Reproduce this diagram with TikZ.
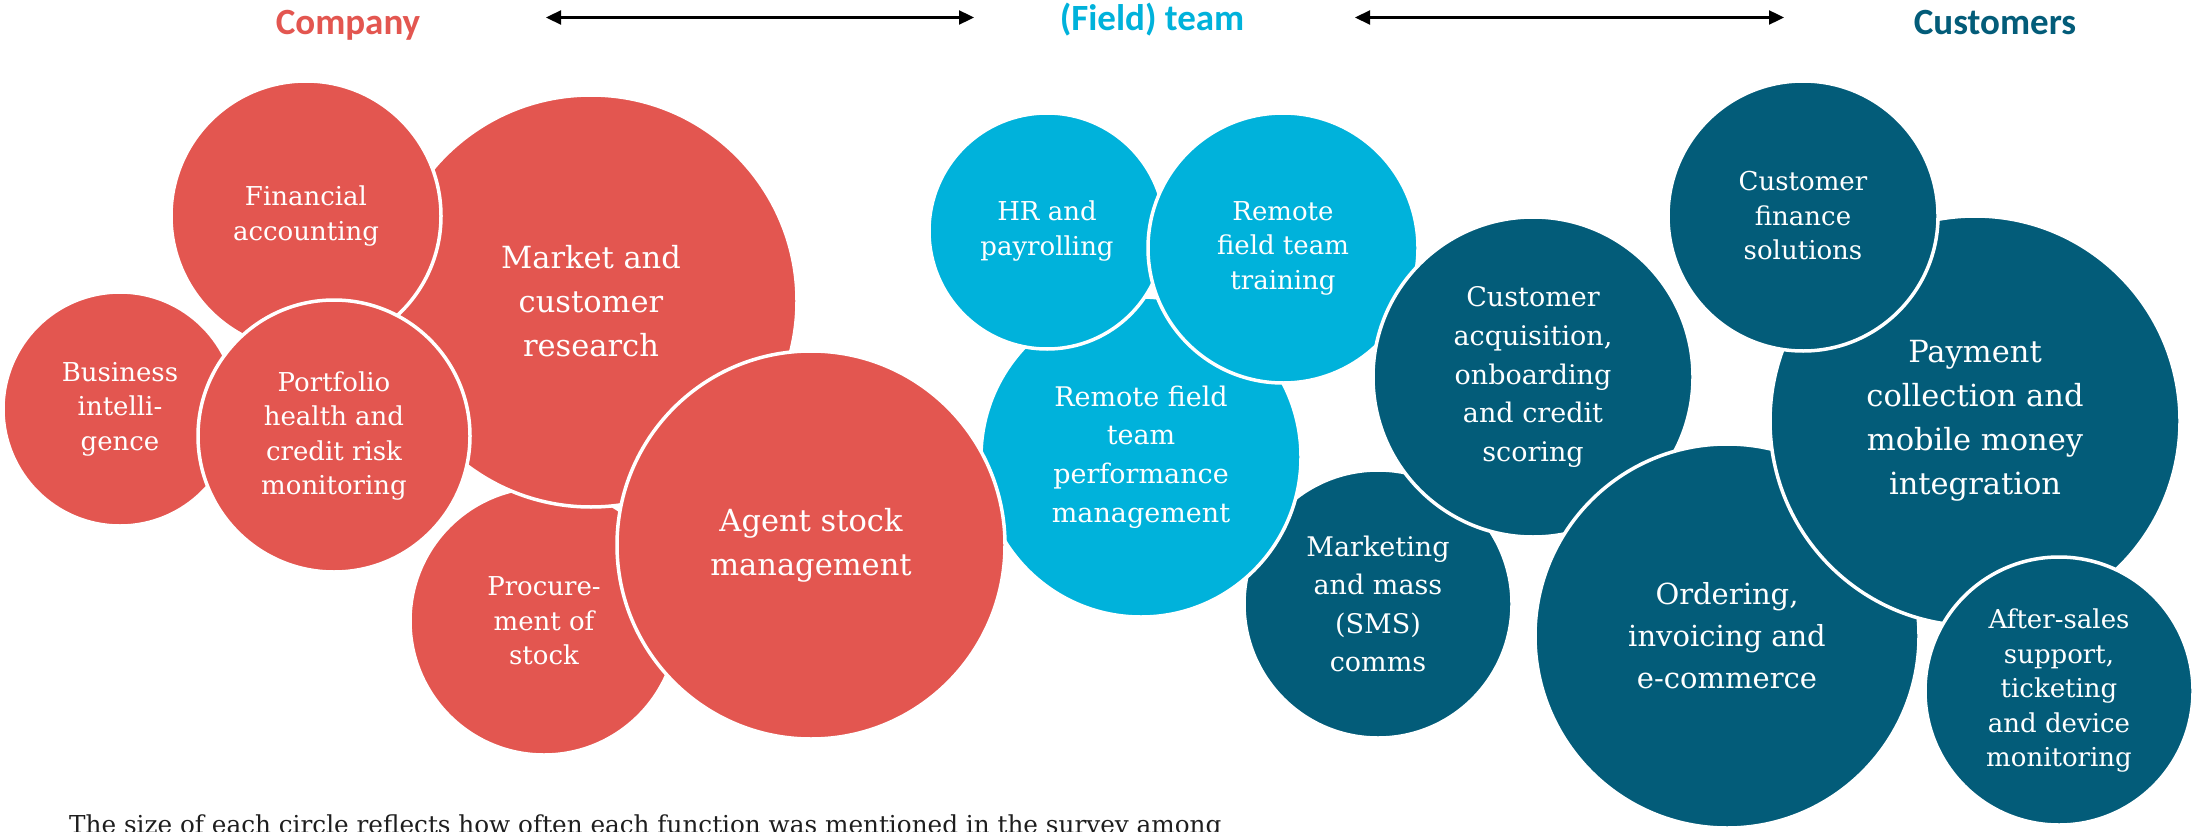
\documentclass[tikz,border=0pt]{standalone}
\usepackage{fontspec}
\setmainfont{DejaVu Serif}
\newfontfamily\headfont{Carlito}
\usetikzlibrary{arrows.meta}

\definecolor{compRed}{RGB}{227,86,80}
\definecolor{teamBlue}{RGB}{0,178,219}
\definecolor{custDark}{RGB}{3,92,121}
\definecolor{noteInk}{RGB}{30,30,30}

\tikzset{
  bubble/.style={circle, inner sep=0pt, draw=white, line width=3.5pt,
                 text=white, align=center},
  compB/.style={bubble, fill=compRed},
  teamB/.style={bubble, fill=teamBlue},
  custB/.style={bubble, fill=custDark},
  txtS/.style={font=\fontsize{26}{34.5}\selectfont},
  txtM/.style={font=\fontsize{27}{38.6}\selectfont},
  txtL/.style={font=\fontsize{30.5}{44}\selectfont},
  header/.style={font=\headfont\bfseries\fontsize{37}{40}\selectfont, anchor=base},
  axis/.style={{Triangle[length=15pt,width=14pt]}-{Triangle[length=15pt,width=14pt]},
               line width=2.3pt, black},
}

\begin{document}
\begin{tikzpicture}[x=1pt,y=-1pt]
\clip (0,0) rectangle (2194,832);
\fill[white] (0,0) rectangle (2194,832);

% column headers and the arrows between them
\node[header, text=compRed]  (hcomp) at (348,35)  {Company};
\node[header, text=teamBlue] (hteam) at (1152,31) {(Field) team};
\node[header, text=custDark] (hcust) at (1995,35) {Customers};
\coordinate (a1l) at (546,17.5);
\coordinate (a1r) at (974,17.5);
\coordinate (a2l) at (1355,17.5);
\coordinate (a2r) at (1784,17.5);
\draw[axis] (a1l) -- (a1r);
\draw[axis] (a2l) -- (a2r);

% bubbles, back to front
\node[custB, txtM, minimum size=268pt] (mkt)  at (1378,604) {Marketing\\and mass\\(SMS)\\comms};
\node[teamB, txtM, minimum size=320pt] (perf) at (1141,457) {Remote field\\team\\performance\\management};
\node[teamB, txtS, minimum size=236pt] (hr)   at (1047,231) {HR and\\payrolling};
\node[teamB, txtS, minimum size=270pt] (trn)  at (1283,248) {Remote\\field team\\training};

\node[compB, txtS, minimum size=234pt] (bi)   at (120,409)  {Business\\intelli-\\gence};
\node[compB, txtS, minimum size=268pt] (proc) at (544,621)  {Procure-\\ment of\\stock};
\node[compB, txtL, minimum size=412pt] (res)  at (591,301)  {Market and\\customer\\research};
\node[compB, txtS, minimum size=270pt] (fin)  at (306,216)  {Financial\\accounting};
\node[compB, txtS, minimum size=272pt] (port) at (334,436)  {Portfolio\\health and\\credit risk\\monitoring};
\node[compB, txtL, minimum size=388pt] (agt)  at (811,545)  {Agent stock\\management};

\node[custB, txtM, minimum size=320pt] (acq)  at (1533,377) {Customer\\acquisition,\\onboarding\\and credit\\scoring};
\node[custB, font=\fontsize{29}{42}\selectfont, minimum size=384pt] (ord) at (1727,636) {Ordering,\\invoicing and\\e-commerce};
\node[custB, txtL, minimum size=410pt] (pay)  at (1975,421) {Payment\\collection and\\mobile money\\integration};
\node[custB, txtS, minimum size=270pt] (cfin) at (1803,216) {Customer\\finance\\solutions};
\node[custB, txtS, minimum size=268pt] (aft)  at (2059,691) {After-sales\\support,\\ticketing\\and device\\monitoring};

% footnote, partly cut by the lower edge
\node[anchor=base west, inner sep=0pt, text=noteInk, font=\fontsize{24.7}{30}\selectfont] (note) at (69,833.5)
  {The size of each circle reflects how often each function was mentioned in the survey among};
\end{tikzpicture}
\end{document}
